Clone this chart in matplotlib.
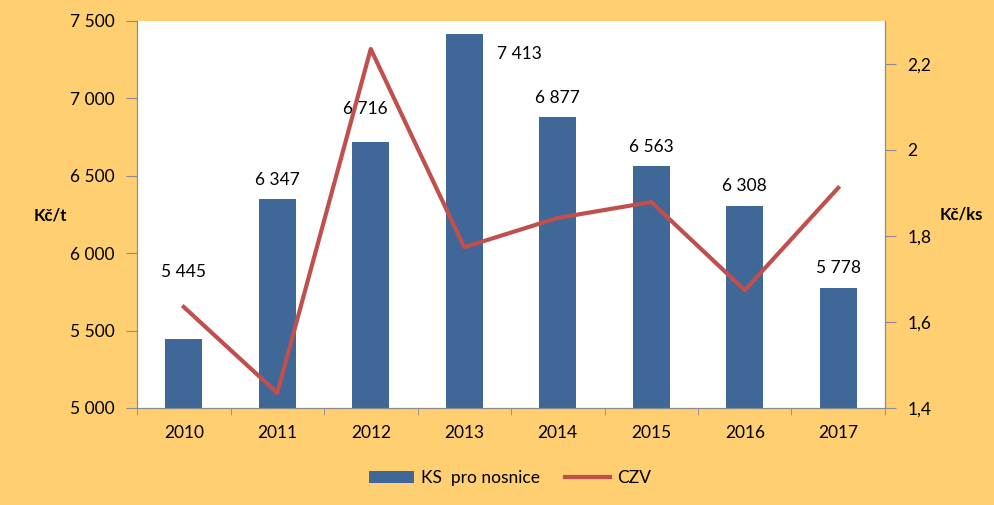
import numpy as np
import matplotlib.pyplot as plt
from matplotlib.ticker import FuncFormatter, FixedLocator

plt.rcParams['font.family'] = ['Lato', 'DejaVu Sans']

# data
roky = ['2010', '2011', '2012', '2013', '2014', '2015', '2016', '2017']
ks_nosnice = [5445, 6347, 6716, 7413, 6877, 6563, 6308, 5778]
czv = [1.635, 1.435, 2.235, 1.774, 1.842, 1.879, 1.674, 1.912]

# posun popisku (body)
label_dx = [0, 0, -4, 40, 0, 0, 0, 0]
label_dy = [48, 14, 24, -14, 14, 14, 14, 14]

bg = '#FFCF71'
c_bar = '#3F6797'
c_line = '#C0504D'
c_ax = '#8C8C8C'

fig = plt.figure(figsize=(9.95, 5.05), dpi=100, facecolor=bg)
ax = fig.add_axes([137/995, 1-408/505, (885-137)/995, (408-21)/505])
ax.set_facecolor('white')
x = np.arange(len(roky))

bars = ax.bar(x, ks_nosnice, width=0.4, color=c_bar, label='KS  pro nosnice', zorder=2)
ax.set_ylim(5000, 7500)
ax.set_xlim(-0.5, len(roky) - 0.5)
ax.yaxis.set_major_locator(FixedLocator(np.arange(5000, 7501, 500)))
ax.yaxis.set_major_formatter(FuncFormatter(lambda v, p: f'{int(v):,}'.replace(',', ' ')))
ax.set_xticks(x)
ax.set_xticklabels(roky)
ax.set_xticks(np.arange(-0.5, len(roky)), minor=True)
ax.tick_params(axis='x', which='major', length=0, pad=12, labelsize=12.5)
ax.tick_params(axis='x', which='minor', length=5, color=c_ax, direction='out')
ax.tick_params(axis='y', length=8, color=c_ax, pad=8, labelsize=12.5)

for sp in ['top']:
    ax.spines[sp].set_visible(False)
for sp in ['left', 'right', 'bottom']:
    ax.spines[sp].set_color(c_ax)

for i, b in enumerate(bars):
    v = ks_nosnice[i]
    ax.annotate(f'{v:,}'.replace(',', ' '), (b.get_x() + b.get_width() / 2, v),
                xytext=(label_dx[i], label_dy[i]), textcoords='offset points',
                ha='center', va='center', fontsize=12.5, zorder=5)

ax2 = ax.twinx()
ax2.plot(x, czv, color=c_line, lw=3, label='CZV', zorder=3)
ax2.set_ylim(1.4, 2.3)
ax2.yaxis.set_major_locator(FixedLocator([1.4, 1.6, 1.8, 2.0, 2.2]))
ax2.yaxis.set_major_formatter(FuncFormatter(lambda v, p: f'{v:g}'.replace('.', ',')))
ax2.tick_params(axis='y', length=8, color=c_ax, pad=8, labelsize=12.5)
ax2.spines['top'].set_visible(False)
for sp in ['left', 'right', 'bottom']:
    ax2.spines[sp].set_color(c_ax)

fig.text(50/995, 1-216/505, 'Kč/t', fontsize=12, fontweight='bold', ha='center', va='center')
fig.text(961/995, 1-215/505, 'Kč/ks', fontsize=12, fontweight='bold', ha='center', va='center')

h1, l1 = ax.get_legend_handles_labels()
h2, l2 = ax2.get_legend_handles_labels()
fig.legend(h1 + h2, l1 + l2, loc='center', bbox_to_anchor=(510/995, 1-478/505), ncol=2,
           frameon=False, fontsize=12.5, handlelength=2.6, columnspacing=1.4, handletextpad=0.4)

fig.savefig('out.png', dpi=100, facecolor=bg)
